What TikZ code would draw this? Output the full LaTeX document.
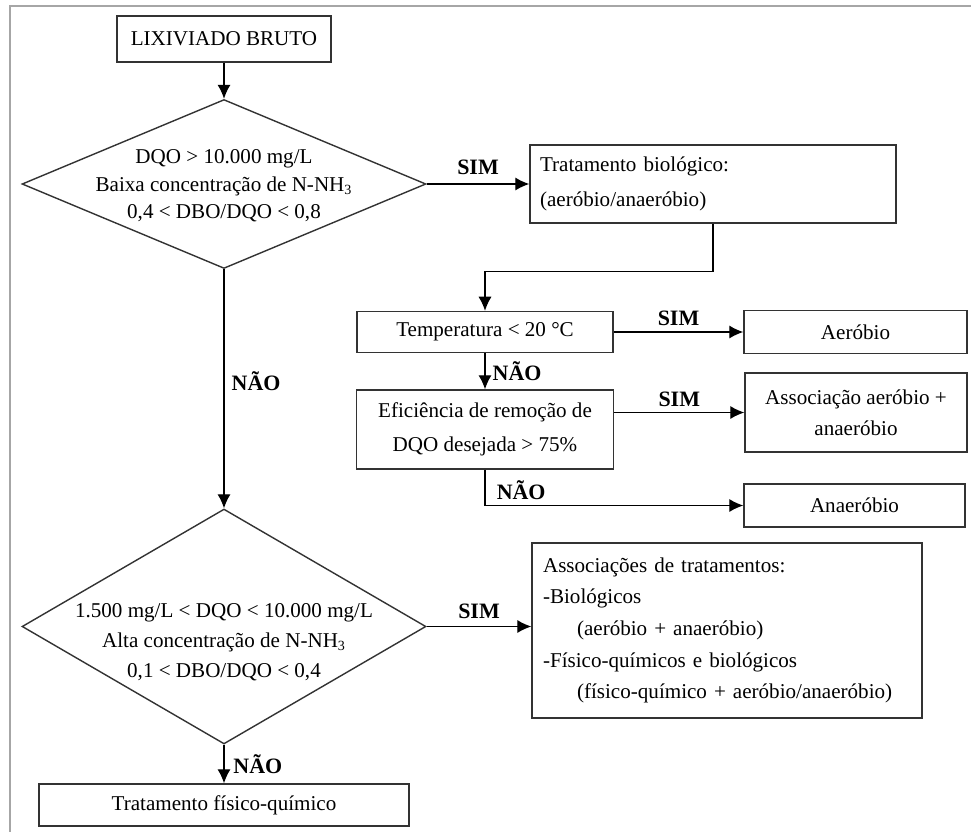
\documentclass[tikz,border=0pt]{standalone}
\usepackage{fontspec}
\setmainfont{Liberation Serif}
\usetikzlibrary{shapes.geometric,arrows.meta}
\tikzstyle{block} = [rectangle, draw=black!80, line width=0.8pt, inner sep=0pt,
    minimum height=0.84cm, align=center]
\tikzstyle{decision} = [diamond, draw=black!80, line width=0.8pt, inner sep=0pt]
\tikzstyle{line} = [draw, line width=0.8pt, -{Latex[length=8pt,width=7.5pt]}]
\tikzstyle{answer} = [font=\fontsize{12.5}{14}\bfseries, inner sep=1pt]

\begin{document}
\begin{tikzpicture}[x=0.02cm, y=-0.02cm, font=\fontsize{12}{15}\selectfont]
	\useasboundingbox (0,0) rectangle (971,832);
	% moldura
	\draw [black!35, line width=1.2pt] (971,6) -- (10,6) -- (10,832);

		\node [block, minimum width=4.28cm, minimum height=0.92cm] (raw) at (224,39) {LIXIVIADO BRUTO};

		\node [decision, minimum width=8.08cm, minimum height=3.38cm] (test1) at (224,184) {};
		\node [align=center, font=\fontsize{12}{15.6}\selectfont] (cond1) at (224,186)
			{DQO > 10.000 mg/L\\Baixa concentração de N-NH\textsubscript{3}\\0,4 < DBO/DQO < 0,8};

		\node [block, minimum width=7.32cm, minimum height=1.56cm, text width=6.92cm, align=left,
			font=\fontsize{12}{19.8}\selectfont] (bio) at (713,184) {Tratamento biológico:\\(aeróbio/anaeróbio)};

		\node [block, minimum width=5.12cm, minimum height=0.82cm] (temp) at (485,332) {Temperatura < 20 °C};
		\node [block, minimum width=5.14cm, minimum height=1.58cm, font=\fontsize{12}{19.3}\selectfont] (eff) at (485,429.5)
			{Eficiência de remoção de\\DQO desejada > 75\%};

		\node [block, minimum width=4.46cm, minimum height=0.86cm] (aer) at (855.5,332) {Aeróbio};
		\node [block, minimum width=4.44cm, minimum height=1.58cm, font=\fontsize{12}{17.6}\selectfont] (mix) at (856,412.5)
			{Associação aeróbio +\\anaeróbio};
		\node [block, minimum width=4.42cm, minimum height=0.86cm] (anaer) at (854.5,505.5) {Anaeróbio};

		\node [decision, minimum width=8.08cm, minimum height=4.7cm] (test2) at (224,626.5) {};
		\node [align=center, font=\fontsize{12}{17}\selectfont] (cond2) at (224,642)
			{1.500 mg/L < DQO < 10.000 mg/L\\Alta concentração de N-NH\textsubscript{3}\\0,1 < DBO/DQO < 0,4};

		\node [block, minimum width=7.8cm, minimum height=3.5cm, text width=7.36cm, align=left,
			font=\fontsize{12}{18}\selectfont] (combo) at (727,630.5)
			{Associações de tratamentos:\\-Biológicos\\\hspace*{0.68cm}(aeróbio + anaeróbio)\\
			-Físico-químicos e biológicos\\\hspace*{0.68cm}(físico-químico + aeróbio/anaeróbio)};

		\node [block, minimum width=7.4cm, minimum height=0.84cm] (physchem) at (224,805) {Tratamento físico-químico};

		\path [line] (raw) -- (test1);
		\path [line] (test1) -- node [answer, above=4pt] {SIM} (bio);
		\path [line] (bio.south) -- ++(0,48) -| (temp.north);
		\path [line] (temp) -- node [answer, above=2pt] {SIM} (aer);
		\path [line] (temp) -- node [answer, right=3pt] {NÃO} (eff);
		\path [line] (eff.east |- mix.west) -- node [answer, above=2pt] {SIM} (mix.west);
		\path [line] (eff.south) |- node [answer, above=2pt, pos=0.57] {NÃO} (anaer.west);

		\path [line] (test1) -- node [answer, right=3pt, pos=0.47] {NÃO} (test2);
		\path [line] (test2.east) -- node [answer, above=3pt] {SIM} (test2.east -| combo.west);
		\path [line] (test2) -- node [answer, right=4pt] {NÃO} (physchem);
	\end{tikzpicture}
\end{document}
